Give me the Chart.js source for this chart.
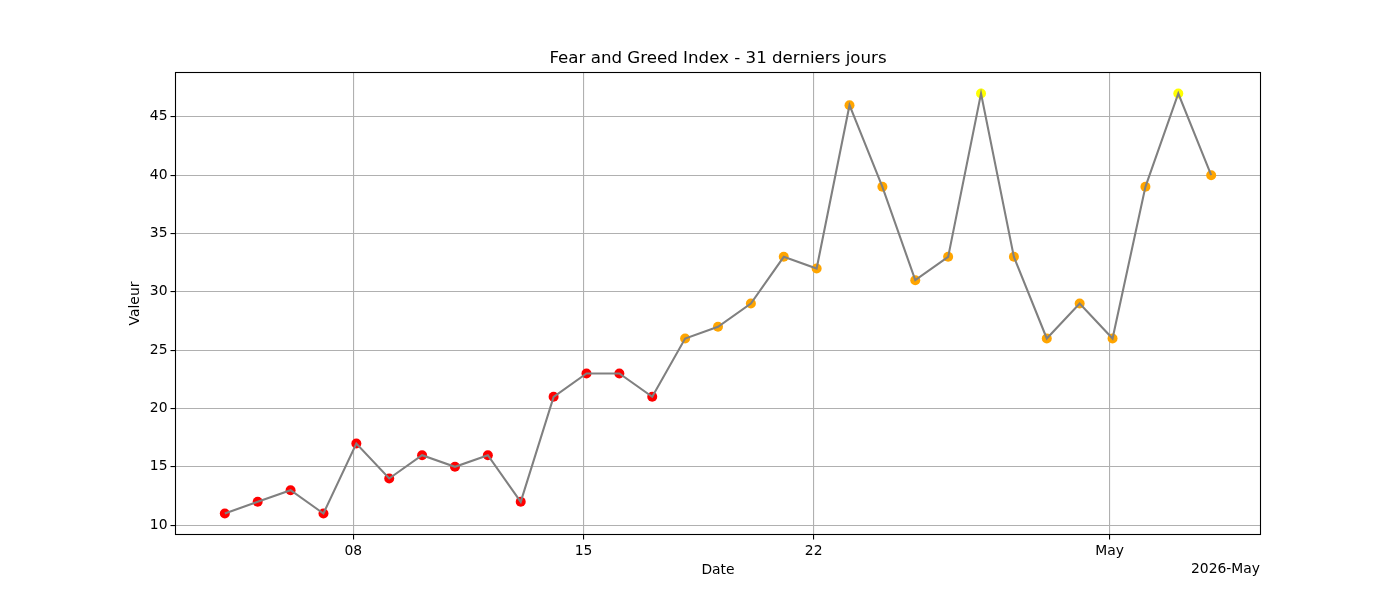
<!DOCTYPE html>
<html>
<head>
<meta charset="utf-8">
<title>Fear and Greed Index</title>
<script src="https://cdn.jsdelivr.net/npm/chart.js@4"></script>
<style>html,body{margin:0;padding:0;background:#fff}canvas{display:block}</style>
</head>
<body>
<canvas id="c" width="1400" height="600"></canvas>
<script>
const dates = ["2026-04-04","2026-04-05","2026-04-06","2026-04-07","2026-04-08","2026-04-09","2026-04-10","2026-04-11","2026-04-12","2026-04-13","2026-04-14","2026-04-15","2026-04-16","2026-04-17","2026-04-18","2026-04-19","2026-04-20","2026-04-21","2026-04-22","2026-04-23","2026-04-24","2026-04-25","2026-04-26","2026-04-27","2026-04-28","2026-04-29","2026-04-30","2026-05-01","2026-05-02","2026-05-03","2026-05-04"];
const values = [11,12,13,11,17,14,16,15,16,12,21,23,23,21,26,27,29,33,32,46,39,31,33,47,33,26,29,26,39,47,40];
const timeOfDay = "T02:10:00Z";
const xTickDates = ["2026-04-08","2026-04-15","2026-04-22","2026-05-01"];
const xTickLabels = ["08","15","22","May"];
const yTicks = [10,15,20,25,30,35,40,45];
const offsetLabel = "2026-May";
const titleText = "Fear and Greed Index - 31 derniers jours";
const xLabel = "Date";
const yLabel = "Valeur";

const DAY = 86400000;
const xOf = s => Date.parse(s.length > 10 ? s : s + "T00:00:00Z") / DAY;
const pts = dates.map((d, i) => ({x: xOf(d + timeOfDay), y: values[i]}));
const colourOf = v => v >= 47 ? "#ffff00" : v >= 25 ? "#ffa500" : "#ff0000";
const FONT = "'DejaVu Sans'";
const xs = pts.map(p => p.x);
const xPad = (Math.max(...xs) - Math.min(...xs)) * 0.05;
const yPad = (Math.max(...values) - Math.min(...values)) * 0.05;

const framePlugin = {
  id: "frame",
  afterLayout(chart) {
    chart.titleBlock.left = chart.chartArea.left;
    chart.titleBlock.right = chart.chartArea.right;
  },
  afterDraw(chart) {
    const {ctx, chartArea: a} = chart;
    ctx.save();
    ctx.strokeStyle = "#000";
    ctx.lineWidth = 1.1;
    ctx.strokeRect(a.left, a.top, a.right - a.left, a.bottom - a.top);
    ctx.fillStyle = "#000";
    ctx.font = "13.89px " + FONT;
    ctx.textAlign = "right";
    ctx.textBaseline = "middle";
    ctx.fillText(offsetLabel, 1260, 569);
    ctx.restore();
  }
};

new Chart(document.getElementById("c"), {
  type: "line",
  plugins: [framePlugin],
  data: {
    datasets: [
      {label: "Tendance", data: pts, order: 1, borderColor: "#808080", borderWidth: 2.08,
       pointRadius: 0, tension: 0, fill: false},
      {label: "Valeur", data: pts, order: 2, showLine: false, pointRadius: 5, pointBorderWidth: 0,
       pointBackgroundColor: values.map(colourOf), pointBorderColor: values.map(colourOf)}
    ]
  },
  options: {
    responsive: false,
    animation: false,
    devicePixelRatio: 1,
    layout: {padding: {left: 0, right: 139.5, top: 0, bottom: 0}},
    plugins: {
      legend: {display: false},
      tooltip: {enabled: false},
      title: {display: true, text: titleText, color: "#000",
        font: {family: FONT, size: 16.67, weight: "normal"},
        padding: {top: 49, bottom: 3.5}}
    },
    scales: {
      x: {
        type: "linear",
        min: Math.min(...xs) - xPad,
        max: Math.max(...xs) + xPad,
        afterBuildTicks(s) { s.ticks = xTickDates.map(d => ({value: xOf(d)})); },
        afterFit(s) { s.height = 65.5; },
        ticks: {
          autoSkip: false, maxRotation: 0, color: "#000", padding: 4,
          font: {family: FONT, size: 13.89},
          callback(v) { const i = xTickDates.findIndex(d => xOf(d) === v); return i < 0 ? "" : xTickLabels[i]; }
        },
        grid: {color: "#b0b0b0", lineWidth: 1.1, tickColor: "#000", tickLength: 5, drawTicks: true},
        border: {display: false},
        title: {display: true, text: xLabel, color: "#000", font: {family: FONT, size: 13.89}, padding: {top: 21.5, bottom: 21.5}}
      },
      y: {
        min: Math.min(...values) - yPad,
        max: Math.max(...values) + yPad,
        afterBuildTicks(s) { s.ticks = yTicks.map(v => ({value: v})); },
        afterFit(s) { s.width = 175.5; },
        ticks: {color: "#000", padding: 3, font: {family: FONT, size: 13.89}},
        grid: {color: "#b0b0b0", lineWidth: 1.1, tickColor: "#000", tickLength: 5},
        border: {display: false},
        title: {display: true, text: yLabel, color: "#000", font: {family: FONT, size: 13.89}, padding: {top: 127, bottom: 127}}
      }
    }
  }
});
</script>
</body>
</html>
